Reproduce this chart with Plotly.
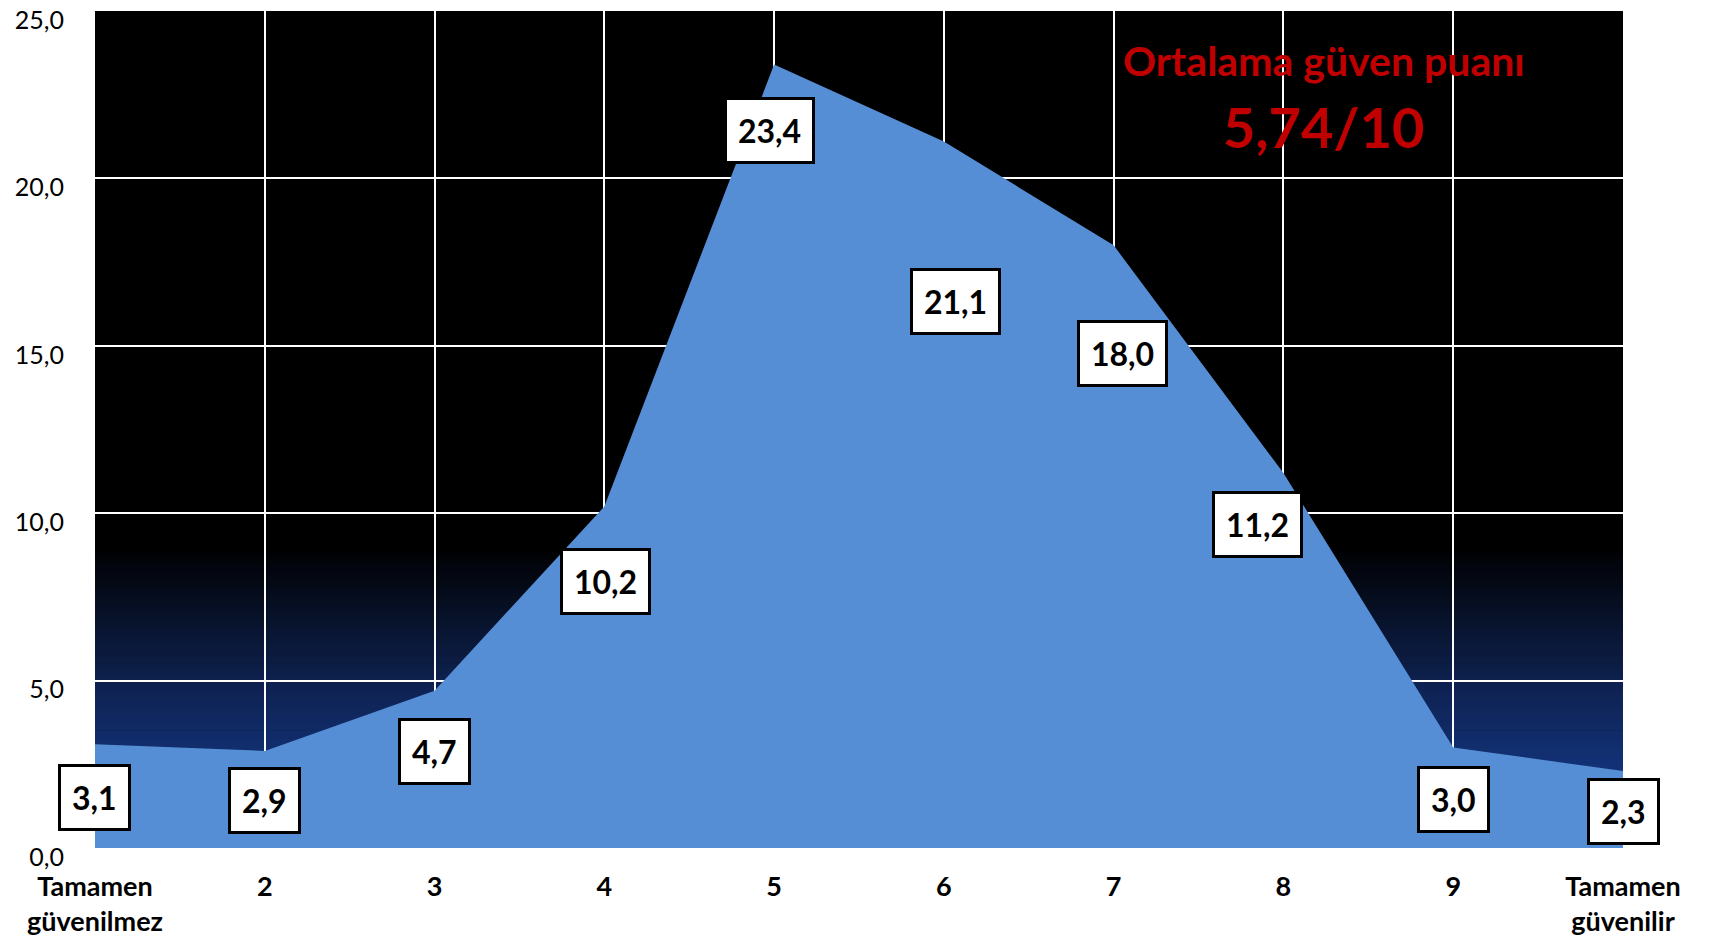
import plotly.graph_objects as go

# puan kategorileri ve yüzde değerleri
categories = ["Tamamen<br>güvenilmez", "2", "3", "4", "5", "6", "7", "8", "9", "Tamamen<br>güvenilir"]
values = [3.1, 2.9, 4.7, 10.2, 23.4, 21.1, 18.0, 11.2, 3.0, 2.3]
y_ticks = [0, 5, 10, 15, 20, 25]
score_title = "Ortalama güven puanı"
score_text = "5,74/10"

# etiket kutularının noktaya göre kayması (piksel)
label_dx = [-1, 0, 0, 1, -5, 12, 9, -26, 0, 0]
label_dy = [-53, -50, -61, -75, -66, -160, -108, -51, -52, -40]

FONT = "Lato"
AREA = "#558ED5"
RED = "#C00000"


def lerp_color(c1, c2, t):
    return "rgb({},{},{})".format(*[round(a + (b - a) * t) for a, b in zip(c1, c2)])


def gradient_shapes():
    # siyahtan laciverte doğru arka plan geçişi
    stops = [(9.0, (0, 0, 0)), (5.0, (14, 33, 78)), (0.0, (22, 64, 156))]
    shapes = []
    n = 40
    for (y_top, c_top), (y_bot, c_bot) in zip(stops[:-1], stops[1:]):
        step = (y_top - y_bot) / n
        for i in range(n):
            y1 = y_top - i * step
            y0 = y1 - step
            shapes.append(dict(
                type="rect", xref="paper", yref="y", x0=0, x1=1, y0=y0, y1=y1 + 0.02,
                fillcolor=lerp_color(c_top, c_bot, (i + 0.5) / n),
                line=dict(width=0), layer="below",
            ))
    return shapes


fig = go.Figure()
fig.add_trace(go.Scatter(
    x=categories, y=values, mode="lines", fill="tozeroy",
    fillcolor=AREA, line=dict(width=0, color=AREA), hoverinfo="skip",
))

annotations = []
for i, (v, dx, dy) in enumerate(zip(values, label_dx, label_dy)):
    annotations.append(dict(
        x=i, y=v, xref="x", yref="y", text="<b>{}</b>".format(f"{v:.1f}".replace(".", ",")),
        showarrow=False, xshift=dx, yshift=dy, xanchor="center", yanchor="middle",
        font=dict(family=FONT, size=32, color="black"),
        bgcolor="white", bordercolor="black", borderwidth=3, borderpad=11,
    ))

annotations.append(dict(
    x=0.804, y=0.941, xref="paper", yref="paper", text="<b>" + score_title + "</b>",
    showarrow=False, xanchor="center", yanchor="middle",
    font=dict(family=FONT, size=41, color=RED),
))
annotations.append(dict(
    x=0.804, y=0.862, xref="paper", yref="paper", text="<b>" + score_text + "</b>",
    showarrow=False, xanchor="center", yanchor="middle",
    font=dict(family=FONT, size=56, color=RED),
))

# sayfa gövdesinin 8px kenar boşluğu hesaba katıldı
fig.update_layout(
    width=1701, height=928,
    margin=dict(l=87, r=86, t=3, b=88),
    paper_bgcolor="white", plot_bgcolor="black",
    separators=",.",
    showlegend=False,
    shapes=gradient_shapes(),
    annotations=annotations,
    xaxis=dict(
        type="category", range=[0, len(categories) - 1], automargin=False,
        showgrid=True, gridcolor="white", gridwidth=2,
        showline=False, zeroline=False, ticks="",
        tickfont=dict(family=FONT, size=27, color="black", weight="bold"),
        ticklabelstandoff=20, ticklabeloverflow="allow",
    ),
    yaxis=dict(
        range=[0, 25], tickvals=y_ticks, tickformat=".1f", automargin=False,
        showgrid=True, gridcolor="white", gridwidth=2,
        showline=False, zeroline=False, ticks="",
        tickfont=dict(family=FONT, size=25, color="black"),
        ticklabelstandoff=30, ticklabelshift=9, ticklabeloverflow="allow",
    ),
)

fig.write_html("out.html")
